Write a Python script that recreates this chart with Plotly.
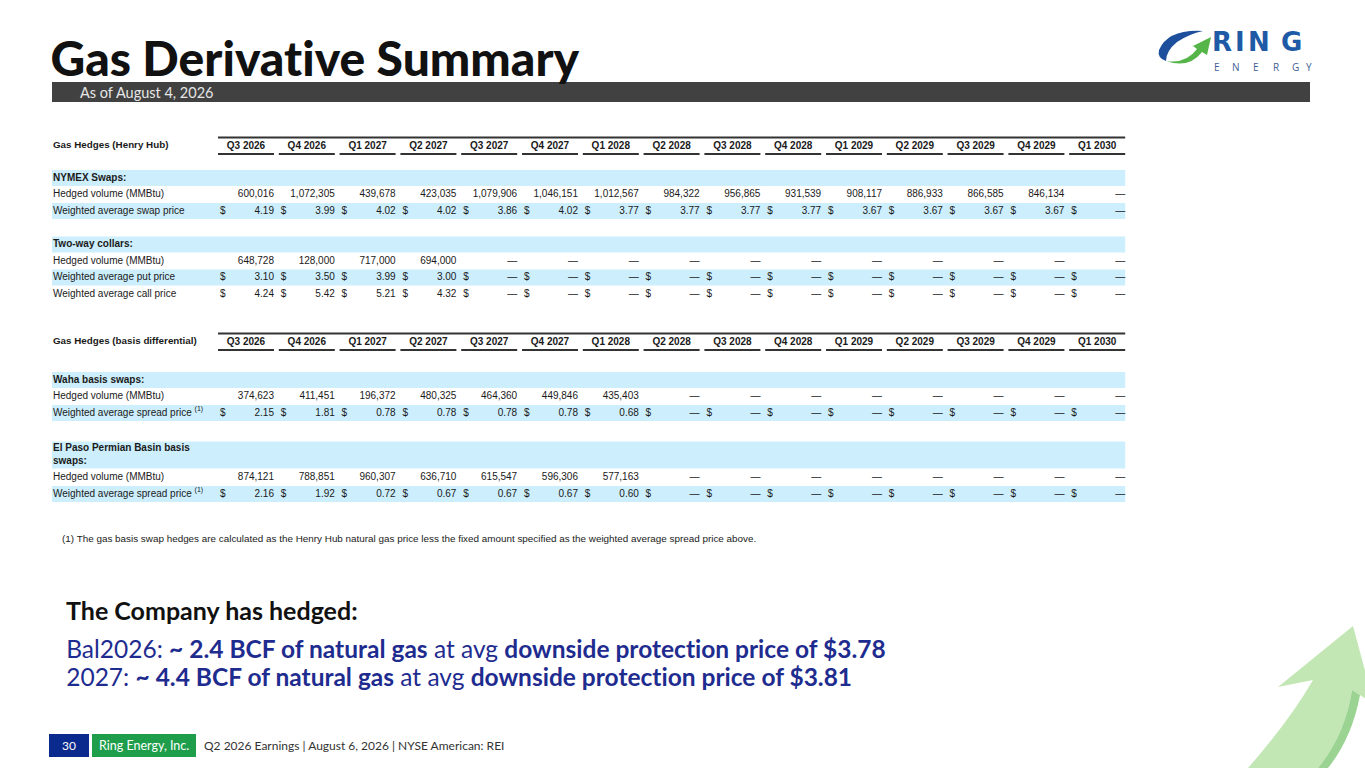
import plotly.graph_objects as go

W, H = 1365, 768

quarters = ["Q3 2026", "Q4 2026", "Q1 2027", "Q2 2027", "Q3 2027", "Q4 2027", "Q1 2028", "Q2 2028",
            "Q3 2028", "Q4 2028", "Q1 2029", "Q2 2029", "Q3 2029", "Q4 2029", "Q1 2030"]

# Gas hedges (Henry Hub)
nymex_volume = [600016, 1072305, 439678, 423035, 1079906, 1046151, 1012567, 984322,
                956865, 931539, 908117, 886933, 866585, 846134, None]
nymex_price = [4.19, 3.99, 4.02, 4.02, 3.86, 4.02, 3.77, 3.77,
               3.77, 3.77, 3.67, 3.67, 3.67, 3.67, None]
collar_volume = [648728, 128000, 717000, 694000, None, None, None, None,
                 None, None, None, None, None, None, None]
collar_put = [3.10, 3.50, 3.99, 3.00, None, None, None, None,
              None, None, None, None, None, None, None]
collar_call = [4.24, 5.42, 5.21, 4.32, None, None, None, None,
               None, None, None, None, None, None, None]

# Gas hedges (basis differential)
waha_volume = [374623, 411451, 196372, 480325, 464360, 449846, 435403, None,
               None, None, None, None, None, None, None]
waha_spread = [2.15, 1.81, 0.78, 0.78, 0.78, 0.78, 0.68, None,
               None, None, None, None, None, None, None]
elpaso_volume = [874121, 788851, 960307, 636710, 615547, 596306, 577163, None,
                 None, None, None, None, None, None, None]
elpaso_spread = [2.16, 1.92, 0.72, 0.67, 0.67, 0.67, 0.60, None,
                 None, None, None, None, None, None, None]

TABLE_FONT = "Liberation Sans, Arial, sans-serif"
SLIDE_FONT = "Lato, sans-serif"
INK = "#1a1a1a"
BAND = "#cdeefc"
NAVY = "#1f2c8f"

# column grid of the tables (page pixels)
col_x0, col_pitch, col_w = 218, 60.8, 56
col_left = [col_x0 + col_pitch * i for i in range(len(quarters))]
col_right = [x + col_w for x in col_left]
col_mid = [x + col_w / 2 for x in col_left]
label_x = 53
band_x0, band_x1 = 52, col_right[-1]

fig = go.Figure()
shapes = []


def add_text(xs, ys, texts, pos, size=10, color=INK, font=TABLE_FONT):
    fig.add_trace(go.Scatter(
        x=xs, y=ys, text=texts, mode="text", textposition=pos,
        textfont=dict(family=font, size=size, color=color),
        marker=dict(size=0), hoverinfo="skip", showlegend=False,
    ))


def fmt_volume(v):
    return "—" if v is None else f"{v:,}"


def fmt_price(v):
    return "—" if v is None else f"{v:.2f}"


def draw_table(title, top_y, rows):
    # heavy rule over the quarter headers, one underline per column
    shapes.append(dict(type="line", x0=col_left[0], x1=col_right[-1], y0=top_y, y1=top_y,
                       line=dict(color="#333333", width=2)))
    for l, r in zip(col_left, col_right):
        shapes.append(dict(type="line", x0=l, x1=r, y0=top_y + 16.5, y1=top_y + 16.5,
                           line=dict(color="#333333", width=2)))
    add_text([label_x], [top_y + 8.5], [f"<b>{title}</b>"], "middle right", size=9.8)
    add_text(col_mid, [top_y + 8.5] * len(quarters), [f"<b>{q}</b>" for q in quarters], "middle center")

    for label, kind, values, y, banded, half in rows:
        if banded:
            shapes.append(dict(type="rect", x0=band_x0, x1=band_x1, y0=y - half, y1=y + half,
                               fillcolor=BAND, line=dict(width=0), layer="below"))
        if kind == "section":
            add_text([label_x], [y], [f"<b>{label}</b>"], "middle right")
            continue
        add_text([label_x], [y], [label], "middle right")
        if kind == "volume":
            add_text(col_right, [y] * len(values), [fmt_volume(v) for v in values], "middle left")
        else:
            add_text([l + 2 for l in col_left], [y] * len(values), ["$"] * len(values), "middle right")
            add_text(col_right, [y] * len(values), [fmt_price(v) for v in values], "middle left")


sup = " <sup>(1)</sup>"
draw_table("Gas Hedges (Henry Hub)", 137.5, [
    ("NYMEX Swaps:", "section", None, 178, True, 8),
    ("Hedged volume (MMBtu)", "volume", nymex_volume, 194.5, False, 8),
    ("Weighted average swap price", "price", nymex_price, 211, True, 8),
    ("Two-way collars:", "section", None, 244.5, True, 8),
    ("Hedged volume (MMBtu)", "volume", collar_volume, 261, False, 8),
    ("Weighted average put price", "price", collar_put, 277.5, True, 8),
    ("Weighted average call price", "price", collar_call, 294, False, 8),
])
draw_table("Gas Hedges (basis differential)", 333.5, [
    ("Waha basis swaps:", "section", None, 380, True, 8),
    ("Hedged volume (MMBtu)", "volume", waha_volume, 396.5, False, 8),
    ("Weighted average spread price" + sup, "price", waha_spread, 413, True, 8),
    ("El Paso Permian Basin basis<br>swaps:", "section", None, 455, True, 13.5),
    ("Hedged volume (MMBtu)", "volume", elpaso_volume, 477, False, 8),
    ("Weighted average spread price" + sup, "price", elpaso_spread, 494, True, 8),
])

add_text([62], [540], ["(1) The gas basis swap hedges are calculated as the Henry Hub natural gas price less "
                       "the fixed amount specified as the weighted average spread price above."],
         "middle right", size=9.9)

# header: title, grey strip
shapes.append(dict(type="rect", x0=52, x1=1310, y0=82, y1=102, fillcolor="#414141", line=dict(width=0)))

annotations = []


def note(x, y, text, size, color, anchor="left", weight="normal", font=SLIDE_FONT):
    annotations.append(dict(x=x, y=y, xref="x", yref="y", text=text, showarrow=False,
                            xanchor=anchor, yanchor="middle",
                            font=dict(family=font, size=size, color=color, weight=weight)))


note(48, 57, "Gas Derivative Summary", 48, "#111111", weight=900)
note(78, 92, "As of August 4, 2026", 14.5, "#e6e6e6")

# logo
shapes.append(dict(type="path", path="M 1203,31 Q 1168,29 1159,50 Q 1157,58 1166,61 "
                                      "Q 1166,51 1177,42 Q 1189,34 1203,31 Z",
                   fillcolor="#1d4f9c", line=dict(width=0)))
shapes.append(dict(type="path", path="M 1166,61 Q 1186,64 1197,49 L 1193,46 L 1211,37 L 1207,55 "
                                      "L 1202,52 Q 1189,69 1166,61 Z",
                   fillcolor="#55b548", line=dict(width=0)))
for ch, x in zip("RING", [1222, 1239.5, 1259, 1291]):
    note(x, 42, ch, 26, "#1f5aa6", anchor="center", weight="bold", font="DejaVu Sans, sans-serif")
for ch, x in zip("ENERGY", [1217, 1236, 1256, 1276, 1295, 1309]):
    note(x, 66.5, ch, 10, "#3f6192", anchor="center", font="Open Sans, sans-serif")

# takeaway text
note(64, 610, "<b>The Company has hedged:</b>", 25, "#111111")
note(64, 648, "Bal2026: <b>~ 2.4 BCF of natural gas</b> at avg <b>downside protection price of $3.78</b>", 24.5, NAVY)
note(64, 676, "2027: <b>~ 4.4 BCF of natural gas</b> at avg <b>downside protection price of $3.81</b>", 24.5, NAVY)

# decorative arrow, bottom right
shapes.append(dict(type="path", path="M 1353,626 L 1374,704 L 1352,690 Q 1345,735 1318,768 "
                                      "L 1248,768 Q 1290,720 1313,680 L 1278,687 Z",
                   fillcolor="#c3e7b4", line=dict(width=0), layer="below"))
shapes.append(dict(type="path", path="M 1352,690 L 1360,695 Q 1352,738 1328,768 L 1318,768 "
                                      "Q 1345,735 1352,690 Z",
                   fillcolor="#9bd492", line=dict(width=0), layer="below"))

# footer
shapes.append(dict(type="rect", x0=49, x1=89, y0=734, y1=757, fillcolor="#0b2a8e", line=dict(width=0)))
shapes.append(dict(type="rect", x0=92, x1=196, y0=734, y1=757, fillcolor="#1e9e4b", line=dict(width=0)))
note(69, 745.5, "30", 12, "#ffffff", anchor="center")
note(144, 745.5, "Ring Energy, Inc.", 12.5, "#ffffff", anchor="center")
note(202, 745.5, "Q2 2026 Earnings | August 6, 2026 | NYSE American: REI", 12, "#333333")

fig.update_layout(
    width=W, height=H, autosize=False,
    margin=dict(l=0, r=0, t=0, b=0),
    paper_bgcolor="#ffffff", plot_bgcolor="#ffffff",
    xaxis=dict(range=[0, W], visible=False, fixedrange=True),
    yaxis=dict(range=[H, 0], visible=False, fixedrange=True),
    shapes=shapes, annotations=annotations,
)

# slide sits flush with the window edge; no font ligatures (ti/fi) as on the slide
page_js = ("document.body.style.margin='0';"
           "var st=document.createElement('style');"
           "st.textContent='text,tspan{font-variant-ligatures:none !important;"
           "font-feature-settings:\"liga\" 0,\"clig\" 0 !important;}';"
           "document.head.appendChild(st);")
fig.write_html("out.html", config={"displayModeBar": False}, post_script=page_js)
